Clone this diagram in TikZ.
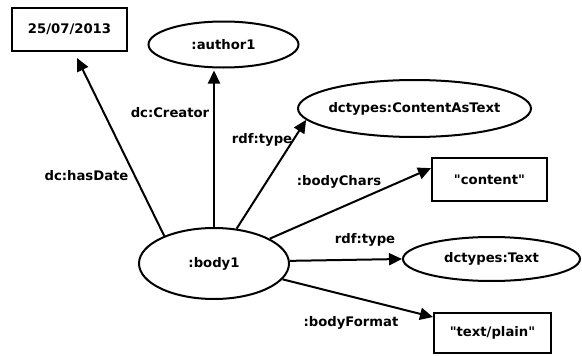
\documentclass[tikz,border=0pt]{standalone}
\usepackage{fontspec}
\setmainfont{DejaVu Sans}[Ligatures=TeXOff]
\usetikzlibrary{shapes.geometric,arrows.meta,calc}
\newcommand\zw[1]{\makebox[0pt]{#1}}
\begin{document}
\begin{tikzpicture}[x=1pt,y=-1pt,
  every node/.style={font=\fontsize{13.2}{15}\selectfont\bfseries},
  ell/.style={draw,ellipse,line width=2pt,inner sep=0pt},
  box/.style={draw,rectangle,line width=2pt,inner sep=0pt},
  lab/.style={inner sep=0pt},
  edge/.style={line width=2pt,-{Triangle[length=13pt,width=12pt]}}]
\useasboundingbox (0,0) rectangle (582,356);
\node[box,minimum width=115pt,minimum height=43pt] (date) at (69.5,29.5) {25/07/2013};
\node[ell,minimum width=150pt,minimum height=46pt] (author) at (223.5,44.5) {\zw{:author1}};
\node[ell,minimum width=233pt,minimum height=57pt] (cat) at (414.5,108.5) {\zw{dctypes:ContentAsText}};
\node[box,minimum width=115pt,minimum height=43pt] (content) at (489.5,179.5) {"content"};
\node[ell,minimum width=150pt,minimum height=71pt] (body) at (214,263.5) {\zw{:body1}};
\node[ell,minimum width=177pt,minimum height=44pt] (text) at (491.5,259) {\zw{dctypes:Text}};
\node[box,minimum width=117pt,minimum height=40pt] (plain) at (492.5,333) {"text/plain"};

\coordinate (dtip) at ($(date.south)+(7.5,6)$);
\draw[edge] (body.151) -- (dtip);
\draw[edge,shorten >=2pt] (body.north) -- (body.north |- author.south);
\draw[edge] (body.57) -- (cat.186.7);
\draw[edge] (body.24.6) -- (content.169);
\draw[edge] (body.2) -- (text.west);
\draw[edge] (body.-13.4) -- (plain.165);

\node[lab] (l1) at (86.5,176) {dc:hasDate};
\node[lab] (l2) at (170,113) {dc:Creator};
\node[lab] (l3) at (262,140) {rdf:type};
\node[lab] (l4) at (339,182) {:bodyChars};
\node[lab] (l5) at (365,240) {rdf:type};
\node[lab] (l6) at (351,323) {:bodyFormat};
\end{tikzpicture}
\end{document}
